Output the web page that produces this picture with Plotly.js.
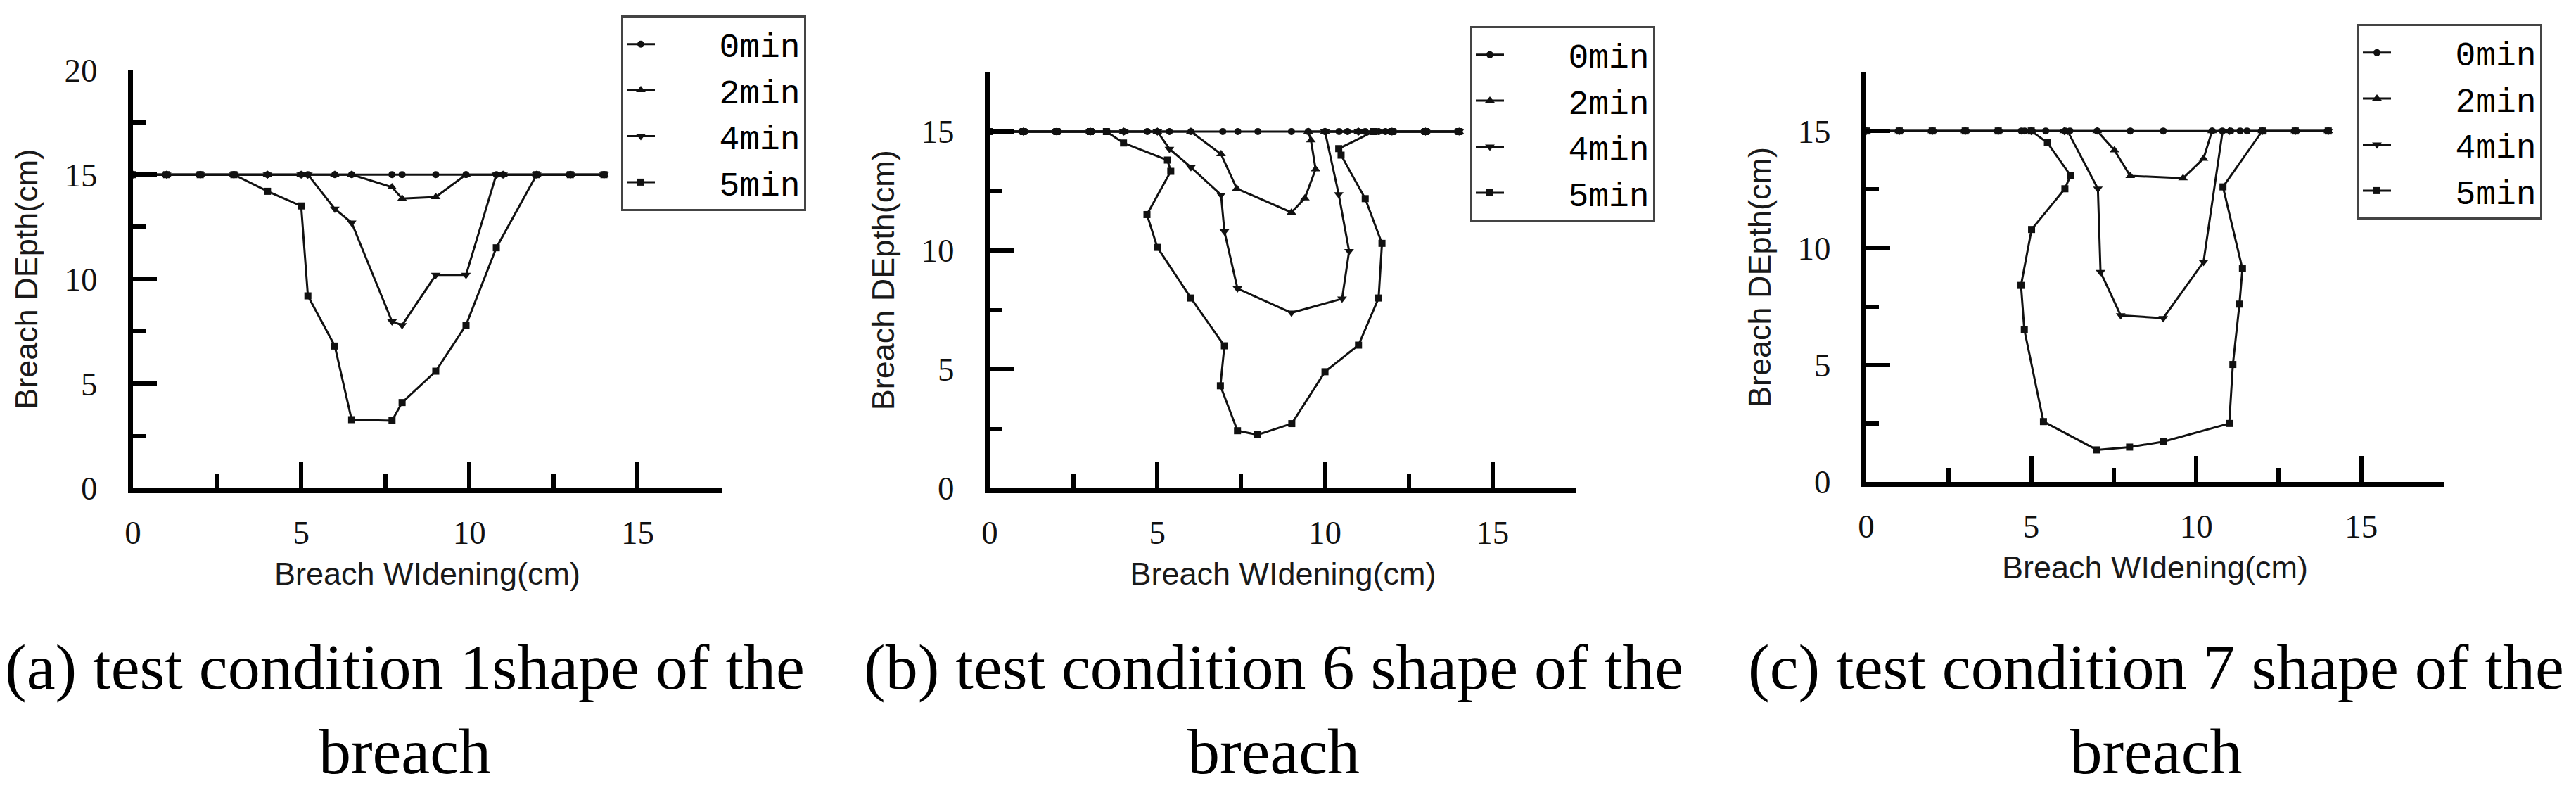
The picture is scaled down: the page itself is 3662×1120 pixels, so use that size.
<!DOCTYPE html>
<html><head><meta charset="utf-8">
<script src="https://cdn.plot.ly/plotly-3.0.1.min.js"></script>
<style>html,body{margin:0;padding:0;background:#fff}#chart{width:3662px;height:1120px}</style>
</head><body><div id="chart"></div><script>
// ---------- data ----------
const seriesNames = ['0min', '2min', '4min', '5min'];
const xTickVals = [0, 5, 10, 15];
const xTickText = ['0', '5', '10', '15'];
const yTickValsA = [0, 5, 10, 15, 20];
const yTickTextA = ['0', '5', '10', '15', '20'];
const yTickValsBC = [0, 5, 10, 15];
const yTickTextBC = ['0', '5', '10', '15'];
const captions = ['(a) test condition 1shape of the<br>breach', '(b) test condition 6 shape of the<br>breach', '(c) test condition 7 shape of the<br>breach'];
const xTitle = 'Breach WIdening(cm)';
const yTitle = 'Breach DEpth(cm)';

// panel (a)
const a_x0 = [0,1,2,3,4,5,5.2,6,6.5,7.7,8,9,9.9,10.8,11,12,13,14];
const a_y0 = [15,15,15,15,15,15,15,15,15,15,15,15,15,15,15,15,15,15];
const a_x2 = [0,1,2,3,4,5,6,6.5,7.7,8,9,9.9,11,12,13,14];
const a_y2 = [15,15,15,15,15,15,15,15,14.4,13.85,13.93,15,15,15,15,15];
const a_x4 = [0,1,2,3,4,5,5.2,6,6.5,7.7,8,9,9.9,10.8,11,12,13,14];
const a_y4 = [15,15,15,15,15,15,15,13.36,12.7,7.97,7.8,10.2,10.2,15,15,15,15,15];
const a_x5 = [0,1,2,3,4,5,5.2,6,6.5,7.7,8,9,9.9,10.8,12,13,14];
const a_y5 = [15,15,15,15,14.2,13.5,9.2,6.8,3.28,3.23,4.1,5.6,7.8,11.5,15,15,15];

// panel (b)
const b_x0 = [0,1,2,3,3.5,4,4.7,5,5.36,6,6.95,7.4,8,9,9.5,10,10.42,10.67,11,11.2,11.6,11.8,12,13,14];
const b_y0 = [15,15,15,15,15,15,15,15,15,15,15,15,15,15,15,15,15,15,15,15,15,15,15,15,15];
const b_x2 = [0,1,2,3,4,5,6,6.9,7.37,9.0,9.4,9.72,9.58,9.5,10,11,12,13,14];
const b_y2 = [15,15,15,15,15,15,15,14.05,12.6,11.6,12.2,13.42,14.64,15,15,15,15,15,15];
const b_x4 = [0,1,2,3,4,5,5.36,6.0,6.9,7.0,7.39,9.0,10.51,10.72,10.41,10.0,11,12,13,14];
const b_y4 = [15,15,15,15,15,15,14.27,13.5,12.34,10.8,8.4,7.38,7.97,9.97,12.36,15,15,15,15,15];
const b_x5 = [0,1,2,3,3.48,3.99,5.3,5.4,4.69,5.0,6.0,7.0,6.88,7.39,7.99,9.01,10.0,11.0,11.6,11.7,11.2,10.48,10.41,11.45,12,13,14];
const b_y5 = [15,15,15,15,15,14.52,13.8,13.33,11.51,10.13,8.0,5.99,4.31,2.42,2.25,2.72,4.9,6.02,8.0,10.3,12.18,14.01,14.28,15,15,15,15];

// panel (c)
const c_x0 = [0,1,2,3,4,4.7,4.8,5,5.44,6.03,6.17,7,8,9,10.48,10.79,11.04,11.33,11.54,12,13,14];
const c_y0 = [15,15,15,15,15,15,15,15,15,15,15,15,15,15,15,15,15,15,15,15,15,15];
const c_x2 = [0,1,2,3,4,5,6,7,7.52,8.0,9.6,10.22,10.48,11,12,13,14];
const c_y2 = [15,15,15,15,15,15,15,15,14.18,13.08,12.98,13.82,15,15,15,15,15];
const c_x4 = [0,1,2,3,4,5,6,6.1,7.02,7.1,7.71,9.0,10.22,10.8,11,12,13,14];
const c_y4 = [15,15,15,15,15,15,15,15,12.53,8.97,7.12,7.0,9.4,15,15,15,15,15];
const c_x5 = [0,1,2,3,4,5.0,5.49,6.19,6.02,5.01,4.69,4.79,5.37,6.99,7.98,9.0,11.0,11.11,11.31,11.4,10.81,12.0,13,14];
const c_y5 = [15,15,15,15,15,15,14.5,13.1,12.53,10.79,8.4,6.51,2.58,1.37,1.49,1.72,2.5,5.02,7.6,9.11,12.61,15,15,15];

// ---------- styling ----------
const W = 3662, H = 1120;
const symbols = ['circle', 'triangle-up', 'triangle-down', 'square'];
const msizes = [10, 12, 12, 10];
const NB = '\u00A0\u00A0\u00A0';

const panels = [
  {xs: [a_x0, a_x2, a_x4, a_x5], ys: [a_y0, a_y2, a_y4, a_y5], xa: 'x', ya: 'y', lg: 'legend'},
  {xs: [b_x0, b_x2, b_x4, b_x5], ys: [b_y0, b_y2, b_y4, b_y5], xa: 'x2', ya: 'y2', lg: 'legend2'},
  {xs: [c_x0, c_x2, c_x4, c_x5], ys: [c_y0, c_y2, c_y4, c_y5], xa: 'x3', ya: 'y3', lg: 'legend3'}
];

const traces = [];
panels.forEach(p => {
  for (let i = 0; i < 4; i++) {
    traces.push({
      type: 'scatter', mode: 'lines+markers',
      x: p.xs[i], y: p.ys[i], xaxis: p.xa, yaxis: p.ya, legend: p.lg,
      name: NB + seriesNames[i],
      line: {color: '#111', width: 3},
      marker: {symbol: symbols[i], size: msizes[i], color: '#111'},
      hoverinfo: 'x+y'
    });
  }
});

const tickFont = {family: 'Liberation Serif, serif', size: 47, color: '#111'};
const titleFont = {family: 'Liberation Sans, Arial, sans-serif', size: 45, color: '#1a1a1a'};

function xAxis(x0, x1, anchor) {
  return {
    domain: [x0 / W, x1 / W], anchor: anchor, range: [0, 17.5],
    tickmode: 'array', tickvals: xTickVals, ticktext: xTickText,
    ticks: 'inside', ticklen: 37, tickwidth: 6, tickcolor: '#000',
    minor: {tickmode: 'array', tickvals: [2.5, 7.5, 12.5, 17.5], ticks: 'inside', ticklen: 20, tickwidth: 6, tickcolor: '#000', showgrid: false},
    showline: true, linewidth: 7, linecolor: '#000',
    showgrid: false, zeroline: false, fixedrange: true,
    tickfont: tickFont, ticklabelstandoff: 16,
    title: {text: xTitle, font: titleFont, standoff: 20}
  };
}
function yAxis(y0px, y1px, anchor, maxv, tv, tt, minorVals) {
  return {
    domain: [1 - y0px / H, 1 - y1px / H], anchor: anchor, range: [0, maxv],
    tickmode: 'array', tickvals: tv, ticktext: tt,
    ticks: 'inside', ticklen: 34, tickwidth: 6, tickcolor: '#000',
    minor: {tickmode: 'array', tickvals: minorVals, ticks: 'inside', ticklen: 18, tickwidth: 6, tickcolor: '#000', showgrid: false},
    showline: true, linewidth: 7, linecolor: '#000',
    showgrid: false, zeroline: false, fixedrange: true,
    tickfont: tickFont, ticklabelstandoff: 34,
    title: {text: yTitle, font: titleFont, standoff: 26}
  };
}

const legFont = {family: 'Liberation Mono, monospace', size: 48, color: '#000'};
function legend(xpx, ypx) {
  return {x: xpx / W, y: 1 - ypx / H, xanchor: 'left', yanchor: 'top',
    bordercolor: '#444', borderwidth: 3, bgcolor: '#fff', font: legFont,
    itemwidth: 40, tracegroupgap: 0};
}

const capFont = {family: 'Liberation Serif, serif', size: 92, color: '#000'};
const layout = {
  width: W, height: H,
  margin: {l: 0, r: 0, t: 0, b: 0, pad: 0},
  paper_bgcolor: '#fff', plot_bgcolor: '#fff',
  showlegend: true,
  xaxis: xAxis(189, 1026, 'y'),
  yaxis: yAxis(694, 99.5, 'x', 20, yTickValsA, yTickTextA, [2.5, 7.5, 12.5, 17.5]),
  xaxis2: xAxis(1407, 2241, 'y2'),
  yaxis2: yAxis(694, 102.5, 'x2', 17.5, yTickValsBC, yTickTextBC, [2.5, 7.5, 12.5, 17.5]),
  xaxis3: xAxis(2653, 3474, 'y3'),
  yaxis3: yAxis(685, 103, 'x3', 17.5, yTickValsBC, yTickTextBC, [2.5, 7.5, 12.5, 17.5]),
  legend: legend(883, 22),
  legend2: legend(2090, 37),
  legend3: legend(3351, 34),
  annotations: [
    {text: captions[0], x: 575 / W, y: 1 - 1008 / H},
    {text: captions[1], x: 1810 / W, y: 1 - 1008 / H},
    {text: captions[2], x: 3065 / W, y: 1 - 1008 / H}
  ].map(a => Object.assign(a, {xref: 'paper', yref: 'paper', xanchor: 'center', yanchor: 'middle', showarrow: false, font: capFont, align: 'center'}))
};

Plotly.newPlot('chart', traces, layout, {staticPlot: true, displayModeBar: false});
</script></body></html>
